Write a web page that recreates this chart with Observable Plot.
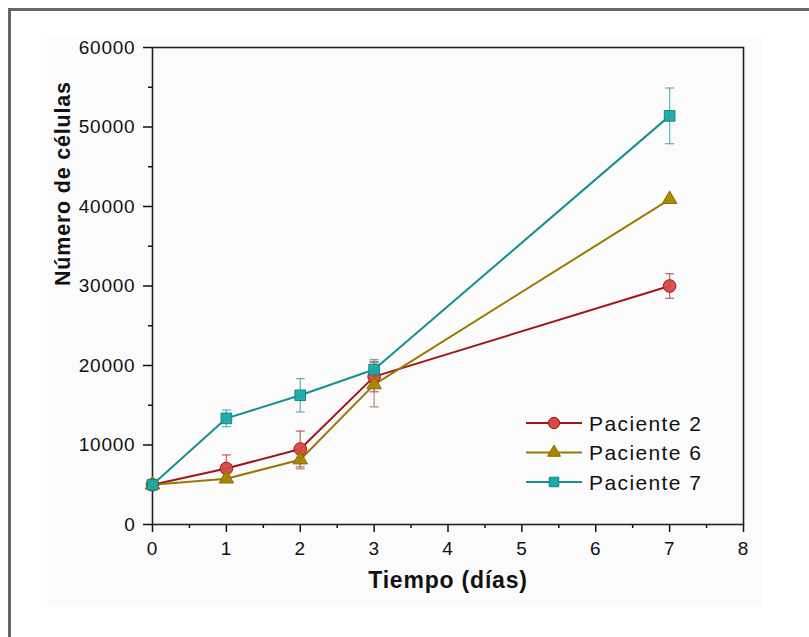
<!DOCTYPE html>
<html>
<head>
<meta charset="utf-8">
<script src="https://cdn.jsdelivr.net/npm/d3@7"></script>
<script src="https://cdn.jsdelivr.net/npm/@observablehq/plot@0.6"></script>
<style>
  html, body { margin: 0; padding: 0; background: #ffffff; width: 809px; height: 637px; overflow: hidden; }
  #outer { position: absolute; left: 8px; top: 8px; width: 900px; height: 700px; border-left: 3px solid #666; border-top: 3px solid #666; box-sizing: border-box; }
  #panel { position: absolute; left: 47px; top: 36px; width: 715px; height: 570px; background: #fbfbfb; }
  #chart { position: absolute; left: 0; top: 0; }
</style>
</head>
<body>
<div id="outer"></div>
<div id="panel"></div>
<div id="chart"></div>
<script>
const days = [0, 1, 2, 3, 7];
const seriesNames = ["Paciente 2", "Paciente 6", "Paciente 7"];
const p2 = [5000, 7050, 9500, 18600, 30000];
const p2err = [0, 1700, 2250, 1900, 1550];
const p6 = [5000, 5750, 8150, 17600, 40900];
const p6err = [0, 300, 1150, 2800, 0];
const p7 = [5000, 13350, 16250, 19500, 51400];
const p7err = [0, 1050, 2100, 1250, 3500];
const xTicks = [0, 1, 2, 3, 4, 5, 6, 7, 8];
const xMinor = [0.5, 1.5, 2.5, 3.5, 4.5, 5.5, 6.5, 7.5];
const yTicks = [0, 10000, 20000, 30000, 40000, 50000, 60000];
const yMinor = [5000, 15000, 25000, 35000, 45000, 55000];
const xTitle = "Tiempo (días)";
const yTitle = "Número de células";

const styles = [
  {line: "#a01515", fill: "#d84848", stroke: "#a01515", err: "#b84a4a", symbol: "circle", r: 6.3},
  {line: "#9a7800", fill: "#a88400", stroke: "#8a6c00", err: "#a0804a", symbol: "triangle", r: 5.4},
  {line: "#178f8f", fill: "#1aa8a8", stroke: "#158585", err: "#4aa2a2", symbol: "square", r: 6}
];
const values = [p2, p6, p7];
const errs = [p2err, p6err, p7err];

const data = [];
seriesNames.forEach((s, i) => {
  days.forEach((d, j) => data.push({series: s, idx: i, day: d, v: values[i][j], e: errs[i][j]}));
});

const cap = { draw(ctx) { ctx.moveTo(-4.5, 0); ctx.lineTo(4.5, 0); } };

const marks = [
  Plot.axisX({ticks: xTicks, tickSize: 8, tickPadding: 9, tickFormat: d => String(d), label: null, fontSize: 19, strokeWidth: 1.5}),
  Plot.axisX({ticks: xMinor, tickSize: 4, tickFormat: () => "", label: null, strokeWidth: 1.5}),
  Plot.axisY({ticks: yTicks, tickSize: 9, tickPadding: 8, tickFormat: d => String(d), label: null, fontSize: 19, strokeWidth: 1.5}),
  Plot.axisY({ticks: yMinor, tickSize: 4, tickFormat: () => "", label: null, strokeWidth: 1.5}),
  Plot.frame({stroke: "#222", strokeWidth: 1.6}),
  Plot.text([xTitle], {frameAnchor: "bottom", dy: 63, fontWeight: "bold", fontSize: 23, fill: "#111"}),
  Plot.text([yTitle], {frameAnchor: "left", dx: -89, rotate: -90, fontWeight: "bold", fontSize: 21.5, fill: "#111"})
];

seriesNames.forEach((s, i) => {
  const sd = data.filter(d => d.idx === i);
  marks.push(Plot.line(sd, {x: "day", y: "v", stroke: styles[i].line, strokeWidth: 2}));
});
seriesNames.forEach((s, i) => {
  const sd = data.filter(d => d.idx === i && d.e > 0);
  marks.push(Plot.ruleX(sd, {x: "day", y1: d => d.v - d.e, y2: d => d.v + d.e, stroke: styles[i].err, strokeWidth: 1.3, strokeOpacity: 0.8}));
  marks.push(Plot.dot(sd, {x: "day", y: d => d.v + d.e, symbol: cap, stroke: styles[i].err, strokeWidth: 1.3, strokeOpacity: 0.8}));
  marks.push(Plot.dot(sd, {x: "day", y: d => d.v - d.e, symbol: cap, stroke: styles[i].err, strokeWidth: 1.3, strokeOpacity: 0.8}));
});
seriesNames.forEach((s, i) => {
  const sd = data.filter(d => d.idx === i);
  marks.push(Plot.dot(sd, {x: "day", y: "v", symbol: styles[i].symbol, r: styles[i].r, fill: styles[i].fill, stroke: styles[i].stroke, strokeWidth: 1, fillOpacity: 0.95}));
});

const chart = Plot.plot({
  width: 809,
  height: 637,
  marginLeft: 152,
  marginRight: 66,
  marginTop: 47,
  marginBottom: 113,
  style: {background: "transparent", fontFamily: "'Liberation Sans', Arial, sans-serif", color: "#111", letterSpacing: "0.8px"},
  x: {domain: [0, 8]},
  y: {domain: [0, 60000]},
  marks
});

const svg = d3.select(chart);
svg.selectAll('g[aria-label="x-axis tick label"], g[aria-label="y-axis tick label"]').style("font-size", "19px");

// legend
const lg = svg.append("g").attr("class", "legend");
const symMap = {circle: d3.symbolCircle, triangle: d3.symbolTriangle, square: d3.symbolSquare};
seriesNames.forEach((s, i) => {
  const y = 423 + i * 29.5;
  const g = lg.append("g");
  g.append("line").attr("x1", 526).attr("x2", 582).attr("y1", y).attr("y2", y)
    .attr("stroke", styles[i].line).attr("stroke-width", 2);
  g.append("path").attr("d", d3.symbol(symMap[styles[i].symbol], Math.PI * styles[i].r * styles[i].r * 0.8)())
    .attr("transform", `translate(554,${y})`).attr("fill", styles[i].fill).attr("stroke", styles[i].stroke).attr("stroke-width", 1);
  g.append("text").attr("x", 589).attr("y", y).attr("dy", "0.36em")
    .attr("text-anchor", "start")
    .style("font-size", "21px").attr("fill", "#111").style("letter-spacing", "1.4px")
    .attr("font-family", "'Liberation Sans', Arial, sans-serif").text(s);
});

document.getElementById("chart").appendChild(chart);
</script>
</body>
</html>
